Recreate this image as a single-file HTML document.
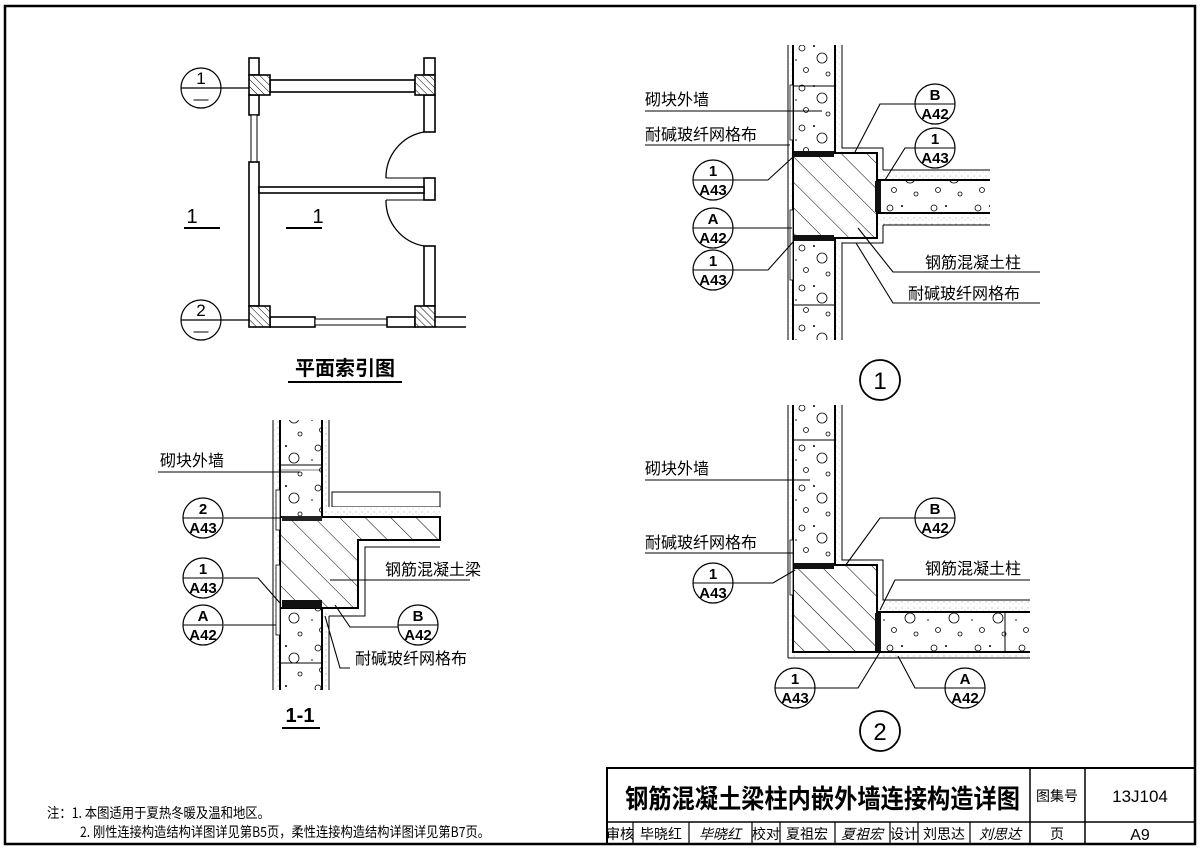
<!DOCTYPE html>
<html><head><meta charset="utf-8"><style>
html,body{margin:0;padding:0;background:#fff;}
svg{display:block;}
text{font-family:"Liberation Sans","Noto Sans CJK SC",sans-serif;fill:#000;}
.cn{font-family:"Noto Sans CJK SC","Noto Serif CJK SC",sans-serif;}
</style></head><body>
<svg width="1200" height="853" viewBox="0 0 1200 853" xmlns="http://www.w3.org/2000/svg">
<defs>
<pattern id="hat" patternUnits="userSpaceOnUse" width="18" height="18" patternTransform="rotate(-45)">
<rect width="18" height="18" fill="#fff"/><line x1="0" y1="0" x2="0" y2="18" stroke="#000" stroke-width="1"/></pattern>
<pattern id="hats" patternUnits="userSpaceOnUse" width="5" height="5" patternTransform="rotate(-45)">
<rect width="5" height="5" fill="#fff"/><line x1="0" y1="0" x2="0" y2="5" stroke="#000" stroke-width="1"/></pattern>
<pattern id="blk" patternUnits="userSpaceOnUse" width="44" height="40">
<rect width="44" height="40" fill="#fff"/>
<circle cx="10" cy="8" r="3" fill="none" stroke="#000" stroke-width="0.8"/>
<circle cx="30" cy="18" r="5" fill="none" stroke="#000" stroke-width="0.8"/>
<circle cx="14" cy="30" r="2.5" fill="none" stroke="#000" stroke-width="0.8"/>
<circle cx="36" cy="34" r="2" fill="none" stroke="#000" stroke-width="0.8"/>
<circle cx="22" cy="6" r="1" fill="#000"/><circle cx="4" cy="20" r="0.8" fill="#000"/>
</pattern>
<pattern id="dot" patternUnits="userSpaceOnUse" width="6" height="6">
<rect width="6" height="6" fill="#fff"/><circle cx="2" cy="2" r="0.5" fill="#777"/><circle cx="5" cy="4" r="0.4" fill="#999"/></pattern>
</defs>

<rect x="5" y="6" width="1190" height="838" fill="none" stroke="#000" stroke-width="2.5"/>

<!-- ========== PLAN ========== -->
<g stroke="#000" stroke-width="1.6" fill="#fff">
<rect x="249" y="58" width="10" height="17"/>
<rect x="249" y="95" width="10" height="20"/>
<rect x="251" y="115" width="6" height="47" stroke-width="1"/>
<rect x="249" y="162" width="10" height="144"/>
<rect x="270" y="80" width="145" height="12"/>
<rect x="424" y="58" width="11" height="17"/>
<rect x="424" y="95" width="11" height="37"/>
<rect x="424" y="246" width="11" height="60"/>
<rect x="424" y="178" width="11" height="22"/>
<rect x="259" y="187" width="165" height="6"/>
<rect x="270" y="317" width="45" height="10"/>
<rect x="315" y="319" width="72" height="6" stroke-width="1"/>
<rect x="387" y="317" width="28" height="10"/>
<line x1="435" y1="317" x2="466" y2="317"/><line x1="435" y1="327" x2="466" y2="327"/>
<rect x="249" y="75" width="21" height="20" fill="url(#hats)"/>
<rect x="415" y="75" width="20" height="20" fill="url(#hats)"/>
<rect x="249" y="306" width="21" height="21" fill="url(#hats)"/>
<rect x="415" y="306" width="20" height="21" fill="url(#hats)"/>
<path d="M424 132 A46 46 0 0 0 386 178" fill="none" stroke-width="1.3"/>
<path d="M386 200 A46 46 0 0 0 424 246" fill="none" stroke-width="1.3"/>
<line x1="386" y1="178" x2="424" y2="178" stroke-width="1"/>
<line x1="386" y1="200" x2="424" y2="200" stroke-width="1"/>
</g>
<g stroke="#000" stroke-width="1.2" fill="#fff">
<circle cx="201" cy="88" r="20"/><line x1="181" y1="88" x2="249" y2="88"/>
<circle cx="201" cy="320" r="20"/><line x1="181" y1="320" x2="249" y2="320"/>
</g>
<text x="201" y="84" font-size="17" text-anchor="middle">1</text>
<text x="201" y="104" font-size="15" text-anchor="middle">—</text>
<text x="201" y="316" font-size="17" text-anchor="middle">2</text>
<text x="201" y="336" font-size="15" text-anchor="middle">—</text>
<text x="192" y="223" font-size="20" text-anchor="middle">1</text>
<line x1="184" y1="228" x2="220" y2="228" stroke="#000" stroke-width="2"/>
<text x="318" y="223" font-size="20" text-anchor="middle">1</text>
<line x1="286" y1="228" x2="322" y2="228" stroke="#000" stroke-width="2"/>
<text x="345" y="375" font-size="20" text-anchor="middle" class="cn" font-weight="bold">平面索引图</text>
<line x1="288" y1="382" x2="402" y2="382" stroke="#000" stroke-width="2"/>

<!-- ========== SECTION 1-1 ========== -->
<g stroke="#000">
<rect x="273" y="420" width="56" height="270" fill="url(#dot)" stroke="none"/>
<rect x="280" y="420" width="42" height="98" fill="url(#blk)" stroke="none"/>
<rect x="280" y="608" width="42" height="82" fill="url(#blk)" stroke="none"/>
<line x1="273" y1="420" x2="273" y2="690" stroke-width="1"/>
<line x1="280" y1="420" x2="280" y2="690" stroke-width="2"/>
<line x1="322" y1="420" x2="322" y2="517" stroke-width="2"/>
<line x1="322" y1="608" x2="322" y2="690" stroke-width="2"/>
<line x1="329" y1="420" x2="329" y2="507" stroke-width="1"/>
<line x1="329" y1="616" x2="329" y2="690" stroke-width="1"/>
<line x1="280" y1="465" x2="322" y2="465" stroke-width="1"/>
<line x1="280" y1="470" x2="322" y2="470" stroke-width="0.6"/>
<line x1="280" y1="663" x2="322" y2="663" stroke-width="1"/>
<rect x="332" y="492" width="108" height="15" fill="#fff" stroke-width="1"/>
<rect x="329" y="507" width="111" height="10" fill="url(#dot)" stroke="none"/>
<path d="M280 517 L440 517 L440 540 L358 540 L358 608 L280 608 Z" fill="url(#hat)" stroke-width="2"/>
<path d="M440 547 L365 547 L365 616 L329 616" fill="none" stroke-width="1"/>
<rect x="282" y="516" width="40" height="5" fill="#222" stroke="none"/>
<rect x="282" y="600" width="40" height="8" fill="#111" stroke="none"/>
<rect x="276" y="490" width="4" height="40" fill="#fff" stroke-width="0.8"/>
<rect x="276" y="565" width="4" height="70" fill="#fff" stroke-width="0.8"/>
</g>
<g stroke="#000" stroke-width="1.1" fill="none">
<line x1="158" y1="472" x2="300" y2="472"/>
<line x1="224" y1="518" x2="280" y2="518"/>
<polyline points="224,578 258,578 280,603"/>
<line x1="224" y1="625" x2="276" y2="625"/>
<polyline points="398,627 350,627 335,605"/>
<polyline points="470,580 330,580"/>
<polyline points="350,668 340,668 325,616"/>
</g>
<text x="160" y="466" font-size="16" class="cn">砌块外墙</text>
<text x="385" y="575" font-size="16" class="cn">钢筋混凝土梁</text>
<text x="355" y="664" font-size="16" class="cn">耐碱玻纤网格布</text>
<text x="300" y="722" font-size="20" text-anchor="middle" font-weight="bold">1-1</text>
<line x1="282" y1="728" x2="320" y2="728" stroke="#000" stroke-width="2"/>

<!-- ========== DETAIL 1 ========== -->
<g stroke="#000">
<rect x="788" y="45" width="54" height="295" fill="url(#dot)" stroke="none"/>
<rect x="793" y="45" width="42" height="108" fill="url(#blk)" stroke="none"/>
<rect x="793" y="238" width="42" height="102" fill="url(#blk)" stroke="none"/>
<line x1="788" y1="45" x2="788" y2="340" stroke-width="1"/>
<line x1="793" y1="45" x2="793" y2="340" stroke-width="2"/>
<line x1="835" y1="45" x2="835" y2="153" stroke-width="2"/>
<line x1="835" y1="238" x2="835" y2="340" stroke-width="2"/>
<polyline points="842,45 842,148 883,148 883,170" fill="none" stroke-width="1"/>
<polyline points="842,340 842,243 883,243 883,225" fill="none" stroke-width="1"/>
<line x1="793" y1="86" x2="835" y2="86" stroke-width="1"/>
<line x1="793" y1="305" x2="835" y2="305" stroke-width="1"/>
<rect x="877" y="170" width="113" height="55" fill="url(#dot)" stroke="none"/>
<rect x="877" y="180" width="113" height="33" fill="url(#blk)" stroke="none"/>
<line x1="883" y1="170" x2="990" y2="170" stroke-width="1"/>
<line x1="877" y1="180" x2="990" y2="180" stroke-width="2"/>
<line x1="877" y1="213" x2="990" y2="213" stroke-width="2"/>
<line x1="883" y1="225" x2="990" y2="225" stroke-width="1"/>
<rect x="793" y="153" width="84" height="85" fill="url(#hat)" stroke-width="2"/>
<rect x="794" y="151" width="40" height="6" fill="#111" stroke="none"/>
<rect x="794" y="235" width="40" height="6" fill="#111" stroke="none"/>
<rect x="875" y="181" width="6" height="31" fill="#111" stroke="none"/>
<rect x="790" y="85" width="3" height="55" fill="#fff" stroke-width="0.8"/>
<rect x="790" y="210" width="3" height="70" fill="#fff" stroke-width="0.8"/>
</g>
<g stroke="#000" stroke-width="1.1" fill="none">
<line x1="645" y1="111" x2="822" y2="111"/>
<line x1="645" y1="145" x2="790" y2="145"/>
<polyline points="733,180 768,180 793,157"/>
<line x1="733" y1="228" x2="792" y2="228"/>
<polyline points="733,270 768,270 793,242"/>
<polyline points="915,104 880,104 855,152"/>
<polyline points="915,148 905,148 885,180"/>
<polyline points="1040,272 893,272 858,228"/>
<polyline points="1040,303 893,303 856,243"/>
</g>
<text x="645" y="105" font-size="16" class="cn">砌块外墙</text>
<text x="645" y="140" font-size="16" class="cn">耐碱玻纤网格布</text>
<text x="925" y="268" font-size="16" class="cn">钢筋混凝土柱</text>
<text x="908" y="299" font-size="16" class="cn">耐碱玻纤网格布</text>
<circle cx="880" cy="380" r="20" fill="none" stroke="#000" stroke-width="1.8"/>
<text x="880" y="389" font-size="24" text-anchor="middle">1</text>

<!-- ========== DETAIL 2 ========== -->
<g stroke="#000">
<rect x="788" y="405" width="54" height="160" fill="url(#dot)" stroke="none"/>
<rect x="793" y="405" width="42" height="160" fill="url(#blk)" stroke="none"/>
<rect x="788" y="565" width="10" height="93" fill="url(#dot)" stroke="none"/>
<rect x="877" y="600" width="153" height="58" fill="url(#dot)" stroke="none"/>
<rect x="877" y="612" width="153" height="40" fill="url(#blk)" stroke="none"/>
<line x1="788" y1="405" x2="788" y2="658" stroke-width="1"/>
<line x1="788" y1="658" x2="1030" y2="658" stroke-width="1"/>
<line x1="793" y1="405" x2="793" y2="565" stroke-width="2"/>
<line x1="835" y1="405" x2="835" y2="565" stroke-width="2"/>
<polyline points="842,405 842,560 883,560 883,600 1030,600" fill="none" stroke-width="1"/>
<line x1="793" y1="440" x2="835" y2="440" stroke-width="1"/>
<line x1="877" y1="612" x2="1030" y2="612" stroke-width="2"/>
<line x1="877" y1="652" x2="1030" y2="652" stroke-width="2"/>
<line x1="1005" y1="612" x2="1005" y2="652" stroke-width="1"/>
<rect x="793" y="565" width="84" height="87" fill="url(#hat)" stroke-width="2"/>
<rect x="794" y="563" width="40" height="6" fill="#111" stroke="none"/>
<rect x="875" y="613" width="6" height="38" fill="#111" stroke="none"/>
<rect x="790" y="540" width="3" height="55" fill="#fff" stroke-width="0.8"/>
</g>
<g stroke="#000" stroke-width="1.1" fill="none">
<line x1="645" y1="480" x2="810" y2="480"/>
<line x1="645" y1="553" x2="793" y2="553"/>
<polyline points="733,583 773,583 795,570"/>
<polyline points="915,518 880,518 845,566"/>
<polyline points="1030,580 895,580 880,610"/>
<polyline points="815,688 858,688 880,652"/>
<polyline points="945,688 915,688 898,656"/>
</g>
<text x="645" y="474" font-size="16" class="cn">砌块外墙</text>
<text x="645" y="548" font-size="16" class="cn">耐碱玻纤网格布</text>
<text x="925" y="574" font-size="16" class="cn">钢筋混凝土柱</text>
<circle cx="880" cy="731" r="20" fill="none" stroke="#000" stroke-width="1.8"/>
<text x="880" y="740" font-size="24" text-anchor="middle">2</text>

<g stroke="#000" stroke-width="1.2" fill="#fff">
<circle cx="203" cy="518" r="20"/><circle cx="203" cy="578" r="20"/><circle cx="203" cy="625" r="20"/>
<circle cx="418" cy="625" r="20"/>
<circle cx="713" cy="180" r="20"/><circle cx="713" cy="228" r="20"/><circle cx="713" cy="270" r="20"/>
<circle cx="935" cy="104" r="20"/><circle cx="935" cy="148" r="20"/>
<circle cx="713" cy="583" r="20"/><circle cx="935" cy="518" r="20"/>
<circle cx="795" cy="688" r="20"/><circle cx="965" cy="688" r="20"/>
</g>
<g stroke="#000" stroke-width="1.1">
<line x1="183" y1="518" x2="223" y2="518"/><line x1="183" y1="578" x2="223" y2="578"/><line x1="183" y1="625" x2="223" y2="625"/>
<line x1="398" y1="625" x2="438" y2="625"/>
<line x1="693" y1="180" x2="733" y2="180"/><line x1="693" y1="228" x2="733" y2="228"/><line x1="693" y1="270" x2="733" y2="270"/>
<line x1="915" y1="104" x2="955" y2="104"/><line x1="915" y1="148" x2="955" y2="148"/>
<line x1="693" y1="583" x2="733" y2="583"/><line x1="915" y1="518" x2="955" y2="518"/>
<line x1="775" y1="688" x2="815" y2="688"/><line x1="945" y1="688" x2="985" y2="688"/>
</g>
<g font-size="15" text-anchor="middle" font-weight="bold">
<text x="203" y="514">2</text><text x="203" y="533">A43</text>
<text x="203" y="574">1</text><text x="203" y="593">A43</text>
<text x="203" y="621">A</text><text x="203" y="640">A42</text>
<text x="418" y="621">B</text><text x="418" y="640">A42</text>
<text x="713" y="176">1</text><text x="713" y="195">A43</text>
<text x="713" y="224">A</text><text x="713" y="243">A42</text>
<text x="713" y="266">1</text><text x="713" y="285">A43</text>
<text x="935" y="100">B</text><text x="935" y="119">A42</text>
<text x="935" y="144">1</text><text x="935" y="163">A43</text>
<text x="713" y="579">1</text><text x="713" y="598">A43</text>
<text x="935" y="514">B</text><text x="935" y="533">A42</text>
<text x="795" y="684">1</text><text x="795" y="703">A43</text>
<text x="965" y="684">A</text><text x="965" y="703">A42</text>
</g>

<!-- notes -->
<text x="47" y="818" font-size="14" class="cn" textLength="223" lengthAdjust="spacingAndGlyphs">注：1. 本图适用于夏热冬暖及温和地区。</text>
<text x="80" y="837" font-size="14" class="cn" textLength="410" lengthAdjust="spacingAndGlyphs">2. 刚性连接构造结构详图详见第B5页，柔性连接构造结构详图详见第B7页。</text>

<!-- title block -->
<g stroke="#000" fill="none">
<rect x="607" y="768" width="588" height="76" stroke-width="2"/>
<line x1="607" y1="822" x2="1195" y2="822" stroke-width="1.5"/>
<line x1="1030" y1="768" x2="1030" y2="844" stroke-width="1.5"/>
<line x1="1085" y1="768" x2="1085" y2="844" stroke-width="1.5"/>
<g stroke-width="1.2">
<line x1="633" y1="822" x2="633" y2="844"/><line x1="689" y1="822" x2="689" y2="844"/>
<line x1="752" y1="822" x2="752" y2="844"/><line x1="780" y1="822" x2="780" y2="844"/>
<line x1="835" y1="822" x2="835" y2="844"/><line x1="890" y1="822" x2="890" y2="844"/>
<line x1="918" y1="822" x2="918" y2="844"/><line x1="970" y1="822" x2="970" y2="844"/>
</g>
</g>
<text x="625" y="808" font-size="26" font-weight="bold" class="cn" textLength="395" lengthAdjust="spacingAndGlyphs">钢筋混凝土梁柱内嵌外墙连接构造详图</text>
<text x="1057" y="801" font-size="14" text-anchor="middle" class="cn">图集号</text>
<text x="1140" y="802" font-size="17" text-anchor="middle" font-family="Liberation Serif">13J104</text>
<g font-size="14" class="cn" text-anchor="middle">
<text x="620" y="839">审核</text><text x="661" y="839">毕晓红</text>
<text x="720" y="839" font-style="italic">毕晓红</text>
<text x="766" y="839">校对</text><text x="807" y="839">夏祖宏</text>
<text x="862" y="839" font-style="italic">夏祖宏</text>
<text x="904" y="839">设计</text><text x="944" y="839">刘思达</text>
<text x="1000" y="839" font-style="italic">刘思达</text>
<text x="1057" y="839">页</text>
</g>
<text x="1140" y="840" font-size="16" text-anchor="middle" font-family="Liberation Serif">A9</text>
</svg>
</body></html>
